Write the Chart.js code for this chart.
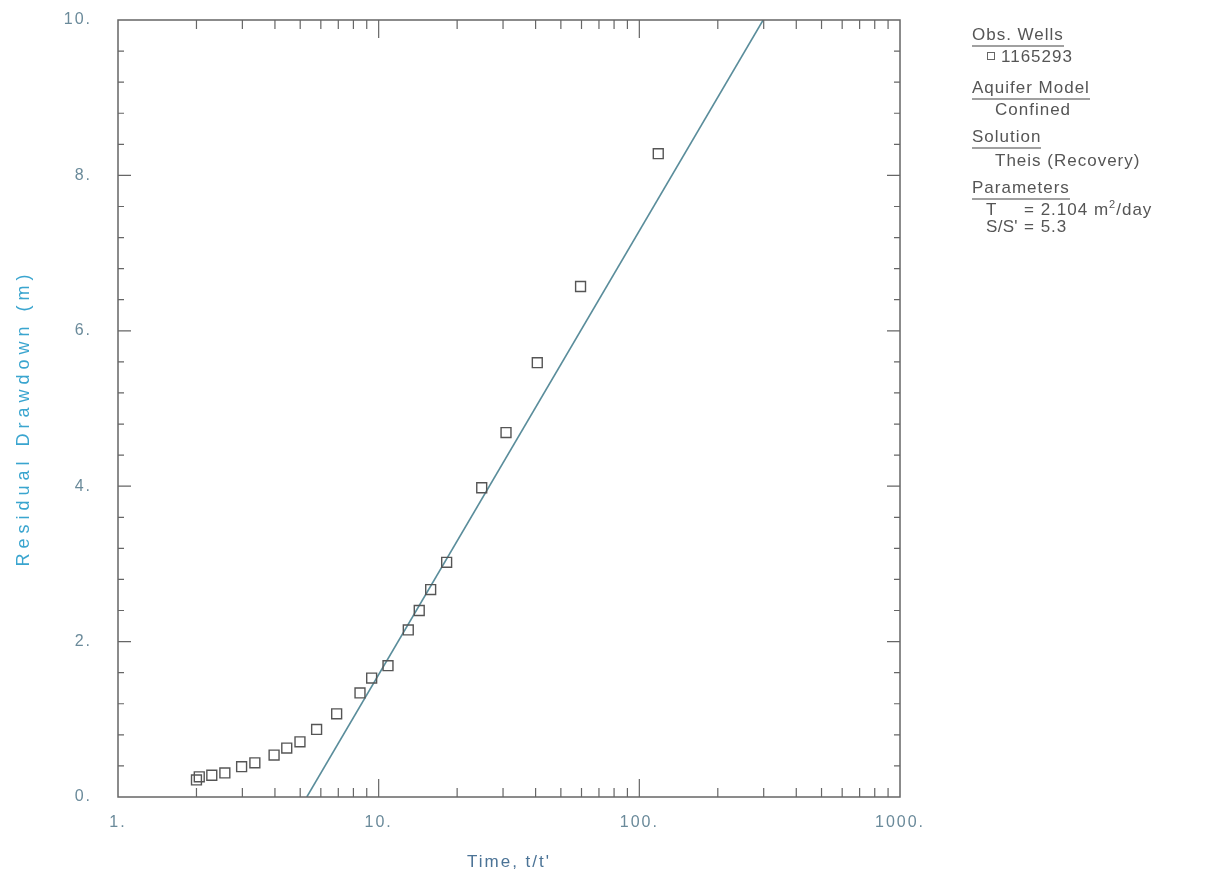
<!DOCTYPE html>
<html>
<head>
<meta charset="utf-8">
<script src="https://cdn.jsdelivr.net/npm/chart.js@4.4.1/dist/chart.umd.min.js"></script>
<style>
  html, body { margin: 0; padding: 0; background: #fff; }
  #wrap { position: relative; width: 1231px; height: 884px; overflow: hidden; background: #fff; }
  #plot { position: absolute; left: 0; top: 0; }
  .key {
    position: absolute;
    font-family: "Liberation Sans", Arial, sans-serif;
    font-size: 17px;
    line-height: 20px;
    color: #555;
    white-space: nowrap;
    letter-spacing: 1px;
  }
  .tight { letter-spacing: 0.3px; }
  .head { border-bottom: 2px solid #a0a0a0; padding-bottom: 1px; }
  .box { display: inline-block; width: 6px; height: 6px; border: 1px solid #666; margin-right: 6px; vertical-align: 2px; }
  sup { font-size: 11px; vertical-align: 7px; line-height: 0; }
</style>
</head>
<body>
<div id="wrap">
  <canvas id="plot" width="1231" height="884"></canvas>

  <div class="key" style="left:972px; top:25px"><span class="head">Obs. Wells</span></div>
  <div class="key" style="left:987px; top:47px"><span class="box"></span>1165293</div>
  <div class="key" style="left:972px; top:78px"><span class="head">Aquifer Model</span></div>
  <div class="key" style="left:995px; top:100px">Confined</div>
  <div class="key" style="left:972px; top:127px"><span class="head">Solution</span></div>
  <div class="key" style="left:995px; top:151px">Theis (Recovery)</div>
  <div class="key" style="left:972px; top:178px"><span class="head">Parameters</span></div>
  <div class="key tight" style="left:986px; top:200px">T</div>
  <div class="key" style="left:1024px; top:200px">= 2.104 m<sup>2</sup>/day</div>
  <div class="key tight" style="left:986px; top:217px">S/S'</div>
  <div class="key" style="left:1024px; top:217px">= 5.3</div>
</div>

<script>
// Recovery test, observation well 1165293: residual drawdown against t/t'
const timeRatio = [2.00, 2.05, 2.29, 2.57, 2.98, 3.35, 3.97, 4.44, 4.99, 5.78, 6.90,
                   8.48, 9.40, 10.86, 12.99, 14.31, 15.83, 18.23, 24.85, 30.8, 40.6, 59.5, 118.2];
const residualDrawdown = [0.22, 0.26, 0.28, 0.31, 0.39, 0.44, 0.54, 0.63, 0.71, 0.87, 1.07,
                          1.34, 1.53, 1.69, 2.15, 2.40, 2.67, 3.02, 3.98, 4.69, 5.59, 6.57, 8.28];

// Theis recovery straight line (zero crossing at S/S' = 5.3)
const fitTime = [5.3, 298.5];
const fitDrawdown = [0, 10];

// Axis labels
const xTickValues = [1, 10, 100, 1000];
const yTickValues = [0, 2, 4, 6, 8, 10];

const FONT = '"Liberation Sans", Arial, sans-serif';
const TICK_COLOR = '#6a8a9a';

const obsPoints = timeRatio.map((t, i) => ({ x: t, y: residualDrawdown[i] }));
const fitPoints = fitTime.map((t, i) => ({ x: t, y: fitDrawdown[i] }));

// Spaced-out lettering for all canvas text
const spacing = {
  id: 'spacing',
  beforeDraw(chart) { chart.ctx.letterSpacing = '2px'; }
};

// Boxed frame with inward tick marks on all four sides
const frame = {
  id: 'frame',
  afterDatasetsDraw(chart) {
    const { ctx, chartArea: a, scales: { x, y } } = chart;
    ctx.save();
    ctx.strokeStyle = '#666';
    ctx.lineWidth = 1.5;
    ctx.strokeRect(a.left, a.top, a.right - a.left, a.bottom - a.top);
    ctx.lineWidth = 1.2;
    ctx.beginPath();
    for (let d = 1; d < 1000; d *= 10) {
      for (let m = 2; m <= 10; m++) {
        const v = d * m;
        if (v >= 1000) continue;
        const px = x.getPixelForValue(v);
        const len = m === 10 ? 18 : 9;
        ctx.moveTo(px, a.bottom); ctx.lineTo(px, a.bottom - len);
        ctx.moveTo(px, a.top); ctx.lineTo(px, a.top + len);
      }
    }
    for (let k = 1; k < 25; k++) {
      const v = k * 0.4;
      const py = y.getPixelForValue(v);
      const len = (k % 5 === 0) ? 13 : 6;
      ctx.moveTo(a.left, py); ctx.lineTo(a.left + len, py);
      ctx.moveTo(a.right, py); ctx.lineTo(a.right - len, py);
    }
    ctx.stroke();
    ctx.restore();
  }
};

// Axis captions
const captions = {
  id: 'captions',
  afterDraw(chart) {
    const { ctx, chartArea: a } = chart;
    ctx.save();
    ctx.textAlign = 'center';
    ctx.textBaseline = 'middle';
    ctx.font = '17px ' + FONT;
    ctx.letterSpacing = '2px';
    ctx.fillStyle = '#4b7396';
    ctx.fillText("Time, t/t'", (a.left + a.right) / 2, 862);
    ctx.translate(24, 418);
    ctx.rotate(-Math.PI / 2);
    ctx.font = '18px ' + FONT;
    ctx.letterSpacing = '5px';
    ctx.fillStyle = '#3aa5cf';
    ctx.fillText('Residual Drawdown (m)', 0, 0);
    ctx.restore();
  }
};

new Chart(document.getElementById('plot'), {
  type: 'scatter',
  data: {
    datasets: [
      {
        label: '1165293',
        data: obsPoints,
        pointStyle: 'rect',
        pointRadius: 7,
        pointHoverRadius: 7,
        pointBorderWidth: 1.4,
        borderColor: '#555',
        backgroundColor: 'rgba(0,0,0,0)',
        showLine: false,
        order: 1
      },
      {
        label: 'Theis (Recovery)',
        data: fitPoints,
        showLine: true,
        borderColor: '#5a8d9b',
        borderWidth: 1.6,
        pointRadius: 0,
        order: 2
      }
    ]
  },
  options: {
    responsive: false,
    animation: false,
    devicePixelRatio: 1,
    layout: { padding: { top: 20, right: 331, left: 0, bottom: 0 } },
    plugins: { legend: { display: false }, tooltip: { enabled: false } },
    scales: {
      x: {
        type: 'logarithmic',
        min: 1,
        max: 1000,
        grid: { display: false, drawTicks: false },
        border: { display: false },
        afterBuildTicks: s => { s.ticks = xTickValues.map(v => ({ value: v, major: true })); },
        afterFit: s => { s.height = 87; },
        ticks: {
          callback: v => v + '.',
          padding: 16,
          color: TICK_COLOR,
          font: { family: FONT, size: 16 },
          autoSkip: false,
          maxRotation: 0
        }
      },
      y: {
        min: 0,
        max: 10,
        grid: { display: false, drawTicks: false },
        border: { display: false },
        afterBuildTicks: s => { s.ticks = yTickValues.map(v => ({ value: v })); },
        // label gap is horizontal only; keep it out of the vertical layout padding
        afterFit: s => { s.width = 118; s.paddingTop = 0; s.paddingBottom = 0; },
        ticks: {
          callback: v => v + '.',
          padding: 26,
          color: TICK_COLOR,
          font: { family: FONT, size: 16 }
        }
      }
    }
  },
  plugins: [spacing, frame, captions]
});
</script>
</body>
</html>
